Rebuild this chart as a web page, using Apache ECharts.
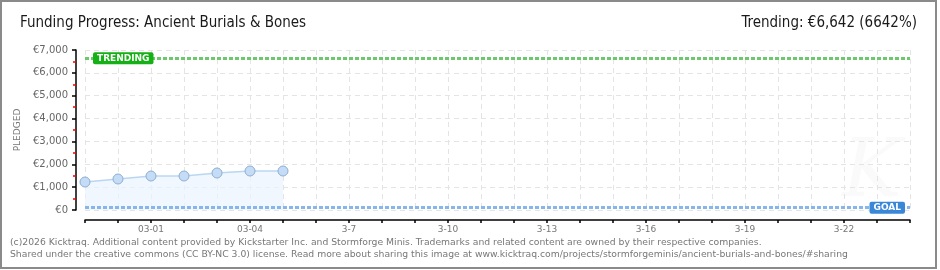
<!DOCTYPE html>
<html>
<head>
<meta charset="utf-8">
<script src="https://cdn.jsdelivr.net/npm/echarts@6/dist/echarts.min.js"></script>
<style>
html,body{margin:0;padding:0;background:#fff;}
#chart{width:940px;height:270px;}
</style>
</head>
<body>
<div id="chart"></div>
<script>
// ---- data ----
const categories = ["02-27","02-28","03-01","03-02","03-03","03-04","3-5","3-6","3-7","3-8","3-9","3-10","3-11","3-12","3-13","3-14","3-15","3-16","3-17","3-18","3-19","3-20","3-21","3-22","3-23","3-24"];
const pledged = [1225, 1356, 1487, 1487, 1619, 1706, 1706];
const trendingValue = 6642;
const goalValue = 100;
const titleText = "Funding Progress: Ancient Burials & Bones";
const trendText = "Trending: €6,642 (6642%)";
const footer1 = "(c)2026 Kicktraq. Additional content provided by Kickstarter Inc. and Stormforge Minis. Trademarks and related content are owned by their respective companies.";
const footer2 = "Shared under the creative commons (CC BY-NC 3.0) license. Read more about sharing this image at www.kicktraq.com/projects/stormforgeminis/ancient-burials-and-bones/#sharing";

const seriesData = categories.map((c, i) => i < pledged.length ? pledged[i] : null);
const fmtEuro = v => '€' + v.toLocaleString('en-US');

const chart = echarts.init(document.getElementById('chart'), null, {renderer: 'canvas'});
const titleFont = '"Liberation Sans Narrow","DejaVu Sans Condensed",sans-serif';
const footFont = '9.25px "DejaVu Sans",sans-serif';

chart.setOption({
  animation: false,
  backgroundColor: '#fff',
  grid: {left: 85, right: 30, top: 50, bottom: 60, containLabel: false},
  graphic: [
    {type: 'rect', shape: {x: 1, y: 1, width: 935, height: 267}, style: {fill: 'none', stroke: '#8a8a8a', lineWidth: 2}, z: 100},
    {type: 'text', left: 20, top: 16, style: {text: titleText, font: '15px ' + titleFont, fill: '#1a1a1a'}},
    {type: 'text', right: 23, top: 16, style: {text: trendText, font: '15px ' + titleFont, fill: '#1a1a1a'}},
    {type: 'text', left: 10, top: 238, style: {text: footer1, font: footFont, fill: '#777'}},
    {type: 'text', left: 10, top: 250, style: {text: footer2, font: footFont, fill: '#777'}},
    {type: 'text', left: 842, top: 135, style: {text: 'K', font: 'italic 80px "DejaVu Serif",serif', fill: '#fafafa'}, z: 0}
  ],
  xAxis: {
    type: 'category',
    data: categories,
    boundaryGap: false,
    offset: 10,
    axisLine: {onZero: false, lineStyle: {color: '#000', width: 1.5}},
    axisTick: {show: true, interval: 0, length: 3, lineStyle: {color: '#000', width: 1.5}},
    axisLabel: {
      interval: (idx) => idx % 3 === 2,
      color: '#777', fontSize: 9, fontFamily: '"DejaVu Sans",sans-serif', margin: 5
    },
    splitLine: {show: true, interval: 0, lineStyle: {color: '#e4e4e4', type: [5, 4]}}
  },
  yAxis: {
    type: 'value',
    min: 0, max: 7000, interval: 1000,
    offset: 9,
    name: 'PLEDGED',
    nameLocation: 'middle',
    nameGap: 51,
    nameTextStyle: {color: '#777', fontSize: 9, fontFamily: '"DejaVu Sans",sans-serif'},
    axisLine: {show: true, onZero: false, lineStyle: {color: '#000', width: 1.5}},
    axisTick: {show: true, length: 4, lineStyle: {color: '#000', width: 1.5}},
    minorTick: {show: true, splitNumber: 2, length: 3, lineStyle: {color: '#e00', width: 1.5}},
    axisLabel: {formatter: fmtEuro, color: '#666', fontSize: 10, fontFamily: '"DejaVu Sans",sans-serif', margin: 8},
    splitLine: {show: true, lineStyle: {color: '#e4e4e4', type: [5, 4]}}
  },
  series: [
    {
      type: 'line',
      data: seriesData,
      symbol: 'circle',
      symbolSize: 10,
      itemStyle: {color: '#c4dcf5', borderColor: '#8eaed4', borderWidth: 1},
      lineStyle: {color: '#b9d7f3', width: 1.5},
      areaStyle: {color: '#ebf4fd'},
      z: 3,
      markLine: {
        silent: true,
        symbol: ['none', 'none'],
        data: [
          {
            yAxis: trendingValue,
            lineStyle: {color: '#6cc86c', width: 3, type: [4, 2]},
            label: {show: true, position: 'insideStart', distance: 8, formatter: 'TRENDING',
              color: '#fff', backgroundColor: '#15b015', borderRadius: 2, padding: [2, 4, 1, 4],
              fontSize: 9, fontWeight: 'bold', fontFamily: '"DejaVu Sans",sans-serif'}
          },
          {
            yAxis: goalValue,
            lineStyle: {color: '#86b6ea', width: 3, type: [4, 2]},
            label: {show: true, position: 'insideEnd', distance: 5, formatter: 'GOAL',
              color: '#fff', backgroundColor: '#3a87d8', borderRadius: 2, padding: [2, 4, 1, 4],
              fontSize: 9, fontWeight: 'bold', fontFamily: '"DejaVu Sans",sans-serif'}
          }
        ]
      }
    }
  ]
});
</script>
</body>
</html>
